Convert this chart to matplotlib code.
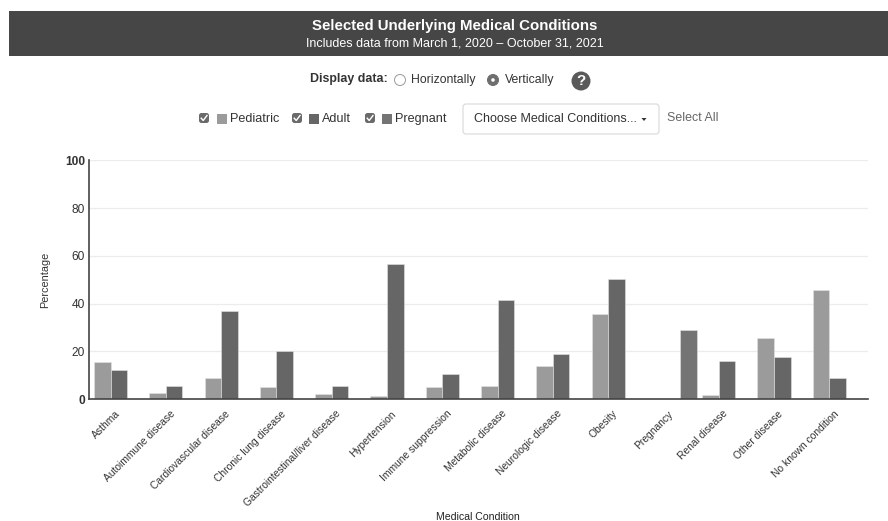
import matplotlib
matplotlib.use("Agg")
import matplotlib.pyplot as plt
from matplotlib.patches import Rectangle, Circle, FancyBboxPatch, Polygon
from matplotlib.transforms import ScaledTranslation
import numpy as np

plt.rcParams['font.family'] = ['Liberation Sans', 'DejaVu Sans']

conditions = ["Asthma", "Autoimmune disease", "Cardiovascular disease", "Chronic lung disease",
              "Gastrointestinal/liver disease", "Hypertension", "Immune suppression",
              "Metabolic disease", "Neurologic disease", "Obesity", "Pregnancy",
              "Renal disease", "Other disease", "No known condition"]
pediatric = [15.5, 2.7, 8.7, 4.9, 2.0, 1.4, 5.0, 5.4, 14.0, 35.8, 0, 1.5, 25.7, 45.7]
adult = [12.2, 5.6, 36.7, 20.1, 5.4, 56.6, 10.6, 41.3, 18.7, 50.4, 0, 16.0, 17.6, 8.7]
pregnant = [0, 0, 0, 0, 0, 0, 0, 0, 0, 0, 28.8, 0, 0, 0]
y_ticks = [0, 20, 40, 60, 80, 100]

C_PED = "#9b9b9b"
C_ADULT = "#666666"
C_PREG = "#747474"
TXT = "#333333"

W, H = 888, 521
fig = plt.figure(figsize=(W / 100, H / 100), dpi=100)

# chart area, in pixels of the picture
left, right, top, bottom = 88.5, 868, 160.3, 399
ax = fig.add_axes([left / W, 1 - bottom / H, (right - left) / W, (bottom - top) / H])

x = np.arange(len(conditions))
bw = 0.3
ax.bar(x - bw / 2, pediatric, bw, color=C_PED, edgecolor="#e4e4e4", linewidth=0.4)
ax.bar(x + bw / 2, adult, bw, color=C_ADULT, edgecolor="#e4e4e4", linewidth=0.4)
ax.bar(x + 3 * bw / 2, pregnant, bw, color=C_PREG, edgecolor="#e4e4e4", linewidth=0.4)

ax.set_xlim(-0.4, 13.7)
ax.set_ylim(0, 100)
ax.set_yticks(y_ticks)
ax.set_xticks(x)
ax.set_xticklabels(conditions, rotation=45, ha="right", va="top", rotation_mode="anchor",
                   fontsize=7.4, color=TXT)
ax.tick_params(axis="x", length=0, pad=7)
ax.tick_params(axis="y", length=0, pad=2.5, labelsize=8.6, labelcolor=TXT)
# labels sit a little to the right of the bar group centre
shift = ScaledTranslation(4 / 100, 0, fig.dpi_scale_trans)
for lab in ax.get_xticklabels():
    lab.set_transform(lab.get_transform() + shift)
for lab in ax.get_yticklabels():
    if lab.get_text() in ("0", "100"):
        lab.set_fontweight("bold")
ax.grid(axis="y", color="#ececec", linewidth=0.9)
ax.set_axisbelow(True)
for s in ("top", "right"):
    ax.spines[s].set_visible(False)
ax.spines["left"].set_color("#444444")
ax.spines["left"].set_linewidth(1.2)
ax.spines["bottom"].set_color("#444444")
ax.spines["bottom"].set_linewidth(1.2)

# page furniture around the chart
ui = fig.add_axes([0, 0, 1, 1], zorder=-1)
ui.set_xlim(0, W)
ui.set_ylim(H, 0)
ui.axis("off")

ui.add_patch(Rectangle((9, 11), W - 9, 45, color="#464646", lw=0))
ui.text(455, 26, "Selected Underlying Medical Conditions", color="white", fontsize=10.8,
        fontweight="bold", ha="center", va="center")
ui.text(455, 43, "Includes data from March 1, 2020 – October 31, 2021", color="white",
        fontsize=9, ha="center", va="center")

ui.text(310, 79, "Display data:", fontsize=8.9, fontweight="bold", color=TXT, va="center")
ui.add_patch(Circle((400, 80), 5.5, fc="white", ec="#999999", lw=0.7))
ui.text(411, 80, "Horizontally", fontsize=8.8, color=TXT, va="center")
ui.add_patch(Circle((493, 80), 5.5, fc="#6e6e6e", ec="#6e6e6e", lw=0.7))
ui.add_patch(Circle((493, 80), 1.8, fc="white", lw=0))
ui.text(505, 80, "Vertically", fontsize=8.8, color=TXT, va="center")
ui.add_patch(Circle((581, 81), 9.5, fc="#5a5a5a", lw=0))
ui.text(581, 81, "?", fontsize=11, fontweight="bold", color="white", ha="center", va="center")


def legend_item(cx, sx, tx, label, col):
    ui.add_patch(FancyBboxPatch((cx - 5, 113), 10, 10, boxstyle="round,pad=0,rounding_size=2.5",
                                fc="#6a6a6a", lw=0))
    ui.plot([cx - 2.8, cx - 0.8, cx + 3], [118.2, 120.5, 115.5], color="white", lw=1)
    ui.add_patch(Rectangle((sx - 5, 114), 10, 10, color=col, lw=0))
    ui.text(tx, 119, label, fontsize=9.1, color=TXT, va="center")


legend_item(204, 222, 230, "Pediatric", C_PED)
legend_item(297, 314, 322, "Adult", C_ADULT)
legend_item(370, 387, 395, "Pregnant", C_PREG)

ui.add_patch(FancyBboxPatch((463, 104), 196, 30, boxstyle="round,pad=0,rounding_size=3",
                            fc="white", ec="#d8d8d8", lw=0.8))
ui.text(474, 119, "Choose Medical Conditions...", fontsize=9, color=TXT, va="center")
ui.add_patch(Polygon([[641.5, 118], [646.5, 118], [644, 121]], color=TXT, lw=0))
ui.text(667, 118, "Select All", fontsize=8.9, color="#666666", va="center")

ui.text(45.5, 280, "Percentage", fontsize=7.8, color=TXT, rotation=90, ha="center", va="center")
ui.text(478, 517, "Medical Condition", fontsize=7.6, color="#222222", ha="center", va="center")

fig.savefig("out.png", dpi=100, facecolor="white")
